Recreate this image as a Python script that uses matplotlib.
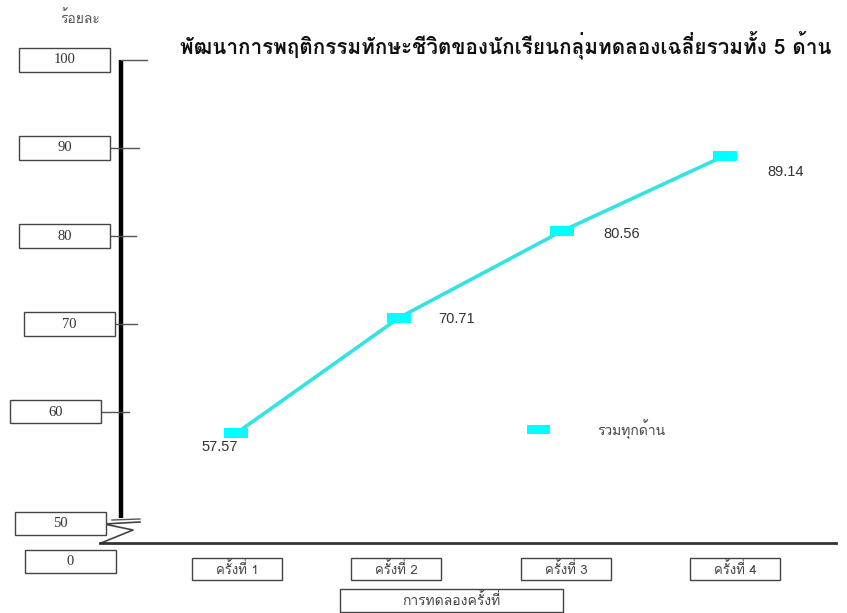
import matplotlib
matplotlib.use('Agg')
import matplotlib.pyplot as plt
from matplotlib.patches import Rectangle
from matplotlib import font_manager
from matplotlib.ft2font import FT2Font
import matplotlib.patheffects as pe

# ---------------- data ----------------
categories = ['ครั้งที่ 1', 'ครั้งที่ 2', 'ครั้งที่ 3', 'ครั้งที่ 4']
values = [57.57, 70.71, 80.56, 89.14]
y_ticks = [60, 70, 80, 90, 100]
y_tick_labels = ['60', '70', '80', '90', '100']
break_labels = ['50', '0']
series_name = 'รวมทุกด้าน'
title = 'พัฒนาการพฤติกรรมทักษะชีวิตของนักเรียนกลุ่มทดลองเฉลี่ยรวมทั้ง 5 ด้าน'
x_title = 'การทดลองครั้งที่'
y_title = 'ร้อยละ'

# ---------------- fonts ----------------
def thai_fonts():
    found = []
    seen = set()
    for f in font_manager.fontManager.ttflist:
        if f.name in seen:
            continue
        try:
            ft = FT2Font(f.fname)
            if ft.get_char_index(0x0E01) and ft.get_char_index(0x0E49):
                found.append(f.name)
                seen.add(f.name)
        except Exception:
            pass
    return found

tf = thai_fonts()
pref = ['Loma', 'Garuda', 'Noto Sans Thai', 'Noto Sans Thai UI', 'Sarabun',
        'Waree', 'Umpush', 'Kinnari', 'Norasi', 'FreeSans', 'Tahoma']
thai = None
for p in pref:
    if p in tf:
        thai = p
        break
if thai is None and tf:
    thai = tf[0]
THAI = ([thai] if thai else []) + ['DejaVu Sans']
plt.rcParams['font.family'] = THAI

has_bold = any(f.name == thai and (f.weight == 'bold' or
               (isinstance(f.weight, int) and f.weight >= 600))
               for f in font_manager.fontManager.ttflist)

# ---------------- layout helpers (pixel -> data) ----------------
W, H = 847, 613
X0, DX = 236.0, 163.0
Y60, S = 412.0, 8.8

def px(p):
    return (p - X0) / DX

def py(p):
    return 60 + (Y60 - p) / S

fig = plt.figure(figsize=(W / 100, H / 100), dpi=100)
ax = fig.add_axes([0, 0, 1, 1])
ax.set_xlim(px(0), px(W))
ax.set_ylim(py(H), py(0))
ax.axis('off')

fit_list = []

def fit(t, target, maxsize=None):
    fit_list.append((t, target, maxsize))

box_ec = '#444444'

def box(x0, x1, y0, y1, text, family, size, color='#333333', target=None, cap=10):
    r = Rectangle((px(x0), py(y1)), px(x1) - px(x0), py(y0) - py(y1),
                  fc='white', ec=box_ec, lw=1.0, zorder=3)
    ax.add_patch(r)
    t = ax.text((px(x0) + px(x1)) / 2, (py(y0) + py(y1)) / 2, text,
                ha='center', va='center', fontsize=size, color=color,
                family=family, zorder=4)
    if target:
        fit(t, target, cap)
    return t

# ---------------- y axis ----------------
axis_x = px(121)
ax.plot([axis_x, axis_x], [y_ticks[-1], py(518)], color='black', lw=3.2,
        solid_capstyle='butt', zorder=2)

tick_left = [100, 107, 106, 110, 121]
tick_right = [129, 137, 136, 139, 147]
box_left = [10, 24, 19, 19, 19]
for v, lab, tl, tr, bl in zip(y_ticks, y_tick_labels, tick_left, tick_right, box_left):
    ax.plot([px(tl), px(tr)], [v, v], color='#555555', lw=1.0, zorder=2)
    yc = Y60 - S * (v - 60)
    box(bl, bl + 91, yc - 11.5, yc + 11.5, lab, ['Liberation Serif'], 10.5)

# axis break and labels below it
ax.plot([px(112), px(140)], [py(520), py(519)], color='#555555', lw=1.0)
zz_x = [140, 104, 133, 101]
zz_y = [522, 524, 530, 543]
ax.plot([px(v) for v in zz_x], [py(v) for v in zz_y], color='#444444', lw=1.2)
box(15, 106, 512, 535, break_labels[0], ['Liberation Serif'], 10.5)
box(25, 116, 550, 573, break_labels[1], ['Liberation Serif'], 10.5)

# ---------------- x axis ----------------
ax.plot([px(100), px(836)], [py(543), py(543)], color='#333333', lw=2.0, zorder=2)
cat_off = [1, -3, 4, 10]
for i, (c, o) in enumerate(zip(categories, cat_off)):
    xc = X0 + DX * i + o
    box(xc - 45, xc + 45, 558, 580, c, THAI, 9, color='#444444', target=58, cap=9.5)
box(340, 563, 589, 612, x_title, THAI, 9, color='#444444', target=110, cap=10)

# ---------------- series ----------------
ax.plot(range(len(values)), values, color='#33E3E3', lw=2.6, zorder=5)
rect_marker = [(-1.2, -0.5), (1.2, -0.5), (1.2, 0.5), (-1.2, 0.5), (-1.2, -0.5)]
ax.plot(range(len(values)), values, linestyle='none', marker=rect_marker,
        markersize=17.3, color='#00FFFF', markeredgewidth=0, zorder=6)

lab_off = [(-16, -14), (39, -1), (41, -3), (42, -16)]
lab_ha = ['center', 'left', 'left', 'left']
for i, (v, o, ha) in enumerate(zip(values, lab_off, lab_ha)):
    ax.annotate(f'{v:.2f}', (i, v), xytext=o, textcoords='offset pixels',
                ha=ha, va='center', fontsize=10.5, color='#333333',
                family=['Liberation Sans'], zorder=7)

# legend
ax.add_patch(Rectangle((px(527), py(434)), px(550) - px(527), py(425) - py(434),
                       fc='#00FFFF', ec='none', zorder=6))
lt = ax.text(px(597), py(430), series_name, ha='left', va='center', fontsize=9,
             color='#444444', family=THAI)
fit(lt, 72, 10)

# ---------------- titles ----------------
t = ax.text(px(180), py(45), title, ha='left', va='center', fontsize=11,
            fontweight='bold', color='#111111', family=THAI)
if not has_bold:
    t.set_path_effects([pe.withStroke(linewidth=0.9, foreground='#111111')])
fit(t, 650)

yt = ax.text(px(60), py(18), y_title, ha='left', va='center', fontsize=9,
             color='#555555', family=THAI)
fit(yt, 48, 10)

fig.canvas.draw()
for tt, target, mx in fit_list:
    w = tt.get_window_extent().width
    if w > 0:
        ns = tt.get_fontsize() * target / w
        if mx:
            ns = min(ns, mx)
        tt.set_fontsize(ns)

fig.savefig('out.png', dpi=100)
